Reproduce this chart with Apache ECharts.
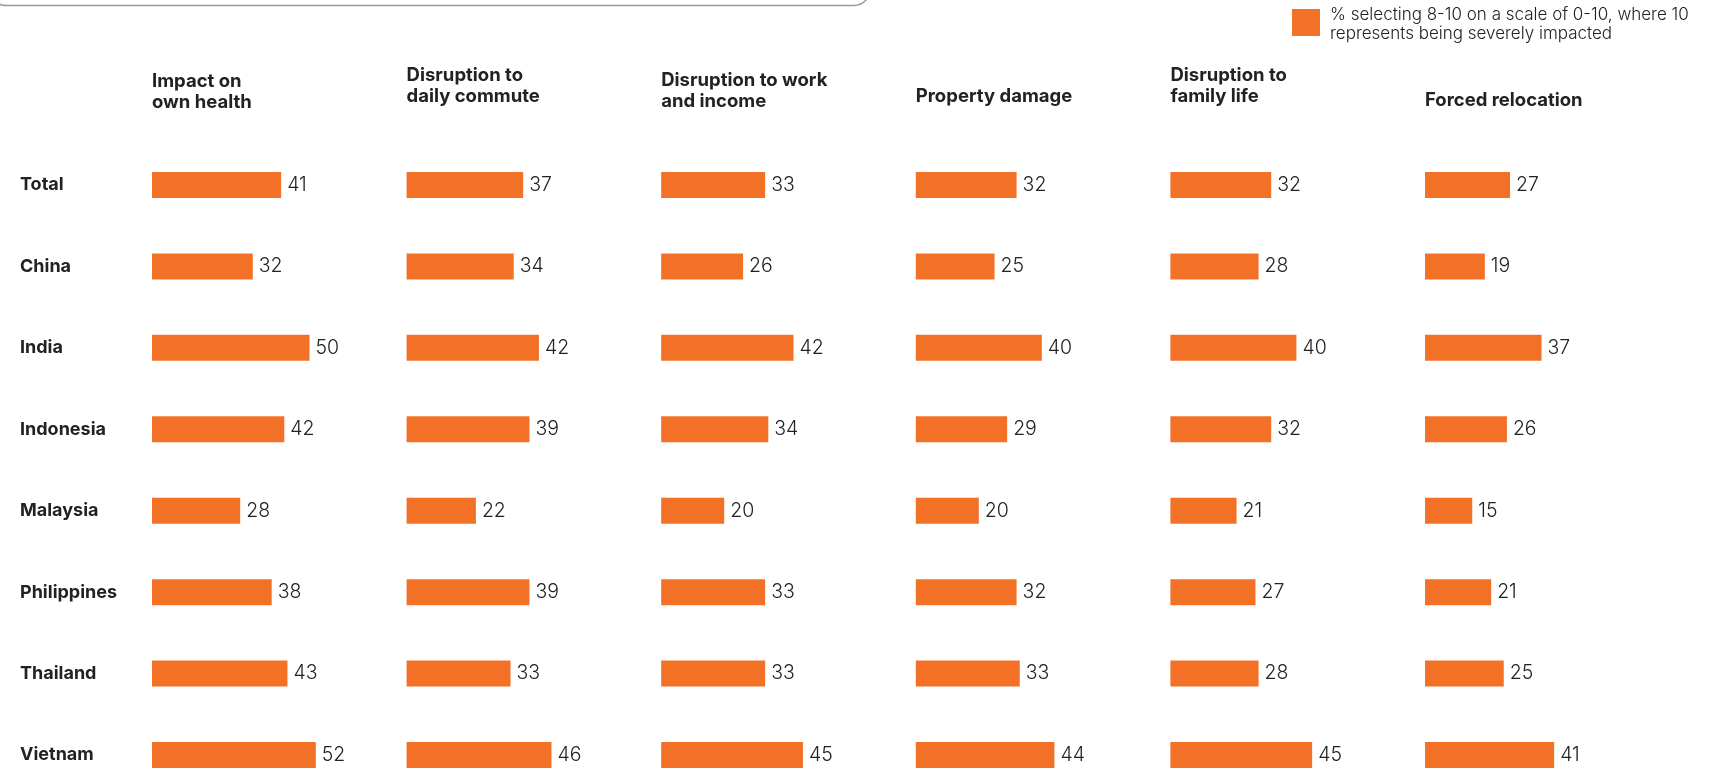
<!DOCTYPE html>
<html><head><meta charset="utf-8">
<script src="https://cdn.jsdelivr.net/npm/echarts@6/dist/echarts.min.js"></script>
<style>html,body{margin:0;padding:0;background:#fff}#c{width:1712px;height:768px}</style>
</head><body><div id="c"></div>
<script>
const countries = ['Total','China','India','Indonesia','Malaysia','Philippines','Thailand','Vietnam'];
const headers = ['Impact on\nown health','Disruption to\ndaily commute','Disruption to work\nand income','Property damage','Disruption to\nfamily life','Forced relocation'];
const healthVals = [41,32,50,42,28,38,43,52];
const commuteVals = [37,34,42,39,22,39,33,46];
const workVals = [33,26,42,34,20,33,33,45];
const propertyVals = [32,25,40,29,20,32,33,44];
const familyVals = [32,28,40,32,21,27,28,45];
const relocationVals = [27,19,37,26,15,21,25,41];
const legendText = '% selecting 8-10 on a scale of 0-10, where 10\nrepresents being severely impacted';

const panels = [healthVals, commuteVals, workVals, propertyVals, familyVals, relocationVals];
const headerY = [92, 86, 91, 96, 86, 100];
const ORANGE = '#F37027';
const FONT = 'Inter, "Noto Sans", sans-serif';
const colLeft = i => 152 + i * 254.6;
const band = 81.43;
const gridTop = 185 - band / 2;

const grids = [], xAxes = [], yAxes = [], series = [], graphics = [];
panels.forEach((vals, i) => {
  grids.push({left: colLeft(i), top: gridTop, width: 189, height: band * countries.length, outerBoundsMode: 'none'});
  xAxes.push({gridIndex: i, type: 'value', min: 0, max: 60, show: false});
  yAxes.push({gridIndex: i, type: 'category', inverse: true, data: countries,
    axisLine: {show: false}, axisTick: {show: false}, splitLine: {show: false},
    axisLabel: i === 0 ? {show: true, align: 'left', margin: 132, fontFamily: FONT, fontWeight: 700, fontSize: 18, color: '#222'} : {show: false}});
  series.push({type: 'bar', xAxisIndex: i, yAxisIndex: i, data: vals, barWidth: 26,
    itemStyle: {color: ORANGE}, silent: true,
    label: {show: true, position: 'right', distance: 6, fontFamily: FONT, fontWeight: 300, fontSize: 19.5, color: '#222'}});
  graphics.push({type: 'text', x: colLeft(i), y: headerY[i], style: {text: headers[i], fontFamily: FONT, fontWeight: 700, fontSize: 18.5, lineHeight: 21, fill: '#222', textVerticalAlign: 'middle'}});
});
graphics.push({type: 'rect', shape: {x: -10, y: -200, width: 880, height: 205.5, r: 16}, style: {fill: 'none', stroke: '#999', lineWidth: 1.5}});
graphics.push({type: 'rect', shape: {x: 1292, y: 9, width: 28, height: 27}, style: {fill: ORANGE}});
graphics.push({type: 'text', x: 1330, y: 5, style: {text: legendText, fontFamily: FONT, fontWeight: 300, fontSize: 17, lineHeight: 19, fill: '#222'}});

const chart = echarts.init(document.getElementById('c'));
chart.setOption({animation: false, grid: grids, xAxis: xAxes, yAxis: yAxes, series: series, graphic: graphics});
</script></body></html>
